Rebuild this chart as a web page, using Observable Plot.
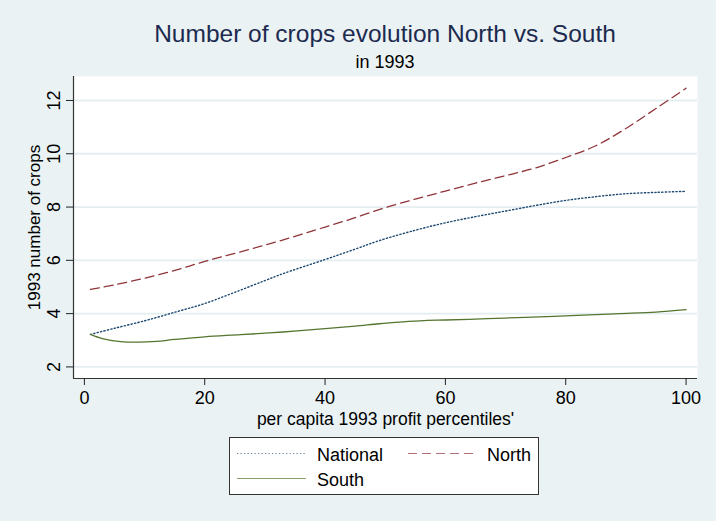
<!DOCTYPE html>
<html><head><meta charset="utf-8">
<script src="https://cdn.jsdelivr.net/npm/d3@7"></script>
<script src="https://cdn.jsdelivr.net/npm/@observablehq/plot@0.6"></script>
<style>
body{margin:0;background:#eaf2f3;}
#wrap{position:relative;width:716px;height:521px;background:#eaf2f3;font-family:"Liberation Sans",Arial,sans-serif;overflow:hidden}
#chart{position:absolute;left:0;top:0}
.title{position:absolute;left:385px;transform:translateX(-50%);white-space:nowrap}
#t1{top:22px;font-size:24.5px;line-height:24px;color:#1c2a50}
#t2{top:53px;font-size:18px;line-height:18px;color:#000}
#legend{position:absolute;left:0;top:0}
</style></head><body><div id="wrap">
<div id="chart"></div>
<div class="title" id="t1"></div>
<div class="title" id="t2"></div>
<svg id="legend" width="716" height="521"></svg>
</div>
<script>
const titleText = "Number of crops evolution North vs. South";
const subtitleText = "in 1993";
const xLabel = "per capita 1993 profit percentiles'";
const yLabel = "1993 number of crops";
const seriesNames = ["National", "North", "South"];
const seriesColors = ["#1a476f", "#90353b", "#55752f"];
const seriesDash = ["1.2,2.3", "9,5", null];

const xTicks = [0, 20, 40, 60, 80, 100];
const yTicks = [2, 4, 6, 8, 10, 12];
const xDomain = [-1.81, 101.9];
const yDomain = [1.565, 12.9];

const nationalX = [1,5,10,15,20,25,30,33,40,45,49,55,60,65,70,75,80,85,90,95,100];
const nationalY = [3.22,3.45,3.73,4.05,4.38,4.8,5.24,5.5,6.03,6.42,6.74,7.13,7.41,7.64,7.85,8.06,8.25,8.39,8.50,8.55,8.59];

const northX = [1,5,10,15,20,25,30,35,40,45,50,55,60,65,70,75,80,85,90,95,100];
const northY = [4.91,5.08,5.33,5.62,5.96,6.26,6.57,6.9,7.25,7.6,7.98,8.3,8.6,8.9,9.18,9.47,9.86,10.3,10.95,11.7,12.46];

const southX = [1,3,6,9,12,15,20,26,33,40,45,49,53,57,60,67,72,78,85,89,95,100];
const southY = [3.22,3.06,2.95,2.93,2.96,3.03,3.13,3.21,3.31,3.44,3.53,3.62,3.69,3.75,3.76,3.81,3.85,3.9,3.96,4.0,4.06,4.15];

const toRows = (xs, ys) => xs.map((x, i) => ({x, y: ys[i]}));
const series = [toRows(nationalX, nationalY), toRows(northX, northY), toRows(southX, southY)];

document.getElementById("t1").textContent = titleText;
document.getElementById("t2").textContent = subtitleText;

const plot = Plot.plot({
  width: 716, height: 521,
  marginTop: 76, marginBottom: 143, marginLeft: 73, marginRight: 19,
  style: {background: "transparent", fontFamily: "Liberation Sans, Arial, sans-serif", fontSize: "18px", color: "#222"},
  x: {domain: xDomain},
  y: {domain: yDomain},
  marks: [
    Plot.frame({fill: "white", stroke: null}),
    Plot.gridY(yTicks, {stroke: "#e4edf0", strokeOpacity: 1, strokeWidth: 1.8}),
    Plot.ruleX([xDomain[0]], {stroke: "#333", strokeWidth: 1.2}),
    Plot.ruleY([yDomain[0]], {stroke: "#333", strokeWidth: 1.2}),
    Plot.axisX(xTicks, {tickSize: 7, tickPadding: 6, label: null, fill: "#000"}),
    Plot.axisY(yTicks, {tickSize: 7, tickFormat: () => "", label: null}),
    Plot.text(yTicks, {y: d => d, text: d => String(d), frameAnchor: "left", dx: -13.7, rotate: -90, textAnchor: "middle", lineAnchor: "bottom", fill: "#000"}),
    Plot.text([yLabel], {text: d => d, frameAnchor: "left", dx: -33.5, rotate: -90, textAnchor: "middle", lineAnchor: "bottom", fill: "#000", fontSize: 17}),
    Plot.text([xLabel], {text: d => d, frameAnchor: "bottom", dy: 46, textAnchor: "middle", lineAnchor: "bottom", fill: "#000", fontSize: 17.5}),
    ...series.map((data, i) => Plot.line(data, {x: "x", y: "y", stroke: seriesColors[i], strokeWidth: i === 0 ? 1.4 : 1.3, strokeDasharray: seriesDash[i], curve: "catmull-rom"}))
  ]
});
document.getElementById("chart").appendChild(plot);

// Legend
const lg = d3.select("#legend");
lg.append("rect").attr("x", 229.5).attr("y", 437.5).attr("width", 309).attr("height", 57)
  .attr("fill", "white").attr("stroke", "#333").attr("stroke-width", 1);
const legendPos = [
  {lx: 237, tx: 317, y: 453.5, ty: 461},
  {lx: 408, tx: 487, y: 453.5, ty: 461},
  {lx: 237, tx: 317, y: 478.5, ty: 486}
];
seriesNames.forEach((name, i) => {
  const p = legendPos[i];
  lg.append("line").attr("x1", p.lx).attr("x2", p.lx + 69).attr("y1", p.y).attr("y2", p.y)
    .attr("stroke", seriesColors[i]).attr("stroke-width", 1.2).attr("stroke-opacity", 0.7)
    .attr("stroke-dasharray", seriesDash[i]);
  lg.append("text").attr("x", p.tx).attr("y", p.ty).text(name)
    .attr("font-family", "Liberation Sans, Arial, sans-serif").attr("font-size", 18).attr("fill", "#000");
});
</script>
</body></html>
